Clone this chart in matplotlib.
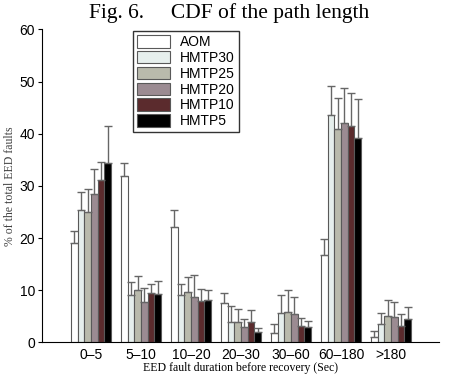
import numpy as np
import matplotlib
matplotlib.use("Agg")
import matplotlib.pyplot as plt

# dados (% das falhas EED)
categorias = ["0–5", "5–10", "10–20", "20–30", "30–60", "60–180", ">180"]
series = ["AOM", "HMTP30", "HMTP25", "HMTP20", "HMTP10", "HMTP5"]
cores = ["#ffffff", "#e6efed", "#b9baac", "#9b8b92", "#5b2b2d", "#000000"]

aom = [19.1, 31.9, 22.1, 7.5, 1.7, 16.7, 1.1]
hmtp30 = [25.3, 9.1, 9.1, 3.9, 5.6, 43.5, 3.5]
hmtp25 = [25.0, 10.0, 9.6, 3.8, 5.9, 40.9, 5.1]
hmtp20 = [28.5, 7.8, 8.6, 3.0, 5.4, 42.1, 4.9]
hmtp10 = [31.1, 9.4, 8.0, 3.9, 3.1, 41.4, 3.1]
hmtp5 = [34.3, 9.3, 8.2, 2.0, 3.0, 39.2, 4.5]

# topo das barras de erro
aom_err = [21.3, 34.4, 25.3, 9.4, 3.6, 19.9, 2.2]
hmtp30_err = [28.8, 11.6, 11.1, 7.0, 9.1, 49.2, 5.7]
hmtp25_err = [29.4, 12.7, 12.5, 6.3, 10.0, 46.9, 8.2]
hmtp20_err = [33.2, 10.5, 13.0, 4.4, 8.7, 48.7, 7.8]
hmtp10_err = [34.5, 11.2, 10.3, 6.2, 4.7, 47.8, 5.4]
hmtp5_err = [41.4, 11.7, 10.0, 2.7, 4.1, 46.7, 6.7]

valores = [aom, hmtp30, hmtp25, hmtp20, hmtp10, hmtp5]
topos = [aom_err, hmtp30_err, hmtp25_err, hmtp20_err, hmtp10_err, hmtp5_err]

fig = plt.figure(figsize=(4.49, 3.77), dpi=100)
ax = fig.add_axes([0.0935, 0.092, 0.8845, 0.83])

x = np.arange(1, len(categorias) + 1)
n = len(series)
largura = 0.8 / n

for i, (nome, cor, v, t) in enumerate(zip(series, cores, valores, topos)):
    pos = x - 0.4 + largura * (i + 0.5)
    v = np.array(v)
    e = np.array(t) - v
    ax.bar(pos, v, largura, color=cor, edgecolor="0.35", linewidth=0.8, label=nome, zorder=2)
    ax.errorbar(pos, v, yerr=[np.zeros_like(e), e], fmt="none", ecolor="0.4",
                elinewidth=1.0, capsize=3, capthick=1.0, zorder=3)

ax.set_xlim(0.02, 7.96)
ax.set_ylim(0, 60)
ax.set_xticks(x)
ax.set_xticklabels(categorias, fontsize=10, family="Liberation Sans")
ax.set_yticks(range(0, 61, 10))
ax.set_yticklabels([str(v) for v in range(0, 61, 10)], fontsize=10, family="Liberation Sans")
ax.tick_params(axis="x", length=0, pad=4)
ax.tick_params(axis="y", direction="out", length=3, pad=2)
ax.spines["top"].set_visible(False)
ax.spines["right"].set_visible(False)

ax.set_xlabel("EED fault duration before recovery (Sec)", fontsize=8.5,
              family="Liberation Serif", labelpad=0)
ax.set_ylabel("% of the total EED faults", fontsize=8.5,
              family="Liberation Serif", color="0.25")
ax.yaxis.set_label_coords(-0.065, 0.5)

leg = ax.legend(loc="upper left", bbox_to_anchor=(0.228, 0.995), frameon=True,
                fancybox=False, edgecolor="black",
                prop={"family": "Liberation Sans", "size": 10},
                handlelength=2.4, handleheight=1.0, labelspacing=0.13,
                borderpad=0.3, handletextpad=0.7, borderaxespad=0)
leg.get_frame().set_linewidth(1.0)

fig.text(0.511, 0.952, "Fig. 6.     CDF of the path length", ha="center", va="baseline",
         fontsize=15.5, family="Liberation Serif")

plt.savefig("out.png", dpi=100)
plt.close()
